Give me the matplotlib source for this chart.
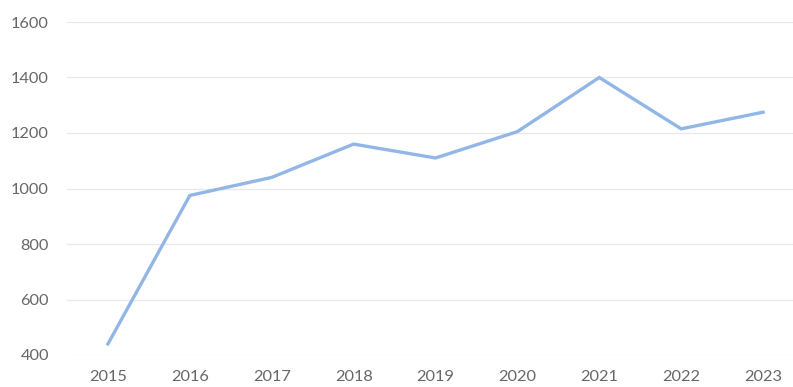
import matplotlib.pyplot as plt

years = ['2015', '2016', '2017', '2018', '2019', '2020', '2021', '2022', '2023']
values = [440, 975, 1040, 1160, 1110, 1205, 1400, 1215, 1275]
y_ticks = [400, 600, 800, 1000, 1200, 1400, 1600]

plt.rcParams['font.family'] = ['Lato', 'DejaVu Sans']

fig = plt.figure(figsize=(7.93, 3.87), dpi=100)
# plot area runs a little past the right edge, like the category axis in the original sheet
ax = fig.add_axes([67 / 793, 1 - 355 / 387, 737 / 793, 333 / 387])

x = list(range(len(years)))
ax.plot(x, values, color='#92b6e6', lw=2.4, solid_joinstyle='miter')

ax.set_xlim(-0.5, len(years) - 0.5)
ax.set_ylim(400, 1600)
ax.set_xticks(x)
ax.set_xticklabels(years)
ax.set_yticks(y_ticks)

ax.grid(axis='y', color='#e8e8e8', lw=0.9)
ax.set_axisbelow(True)
for s in ax.spines.values():
    s.set_visible(False)
ax.tick_params(length=0, labelsize=11.8, labelcolor='#676767')
ax.tick_params(axis='y', pad=13)
ax.tick_params(axis='x', pad=11)

fig.savefig('out.png', dpi=100)
